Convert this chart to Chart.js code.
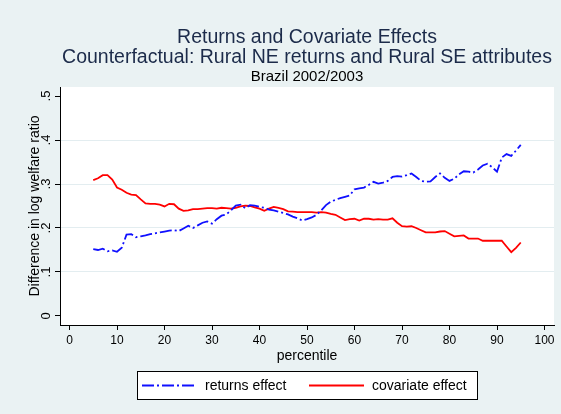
<!DOCTYPE html>
<html>
<head>
<meta charset="utf-8">
<script src="https://cdn.jsdelivr.net/npm/chart.js@4.4.1/dist/chart.umd.min.js"></script>
<style>
  html, body { margin: 0; padding: 0; background: #EAF2F3; }
  canvas { display: block; }
</style>
</head>
<body>
<canvas id="chart" width="561" height="414"></canvas>
<script>
const percentiles = [5, 6, 7, 8, 9, 10, 11, 12, 13, 14, 15, 16, 17, 18, 19, 20,
  21, 22, 23, 24, 25, 26, 27, 28, 29, 30, 31, 32, 33, 34, 35, 36, 37, 38, 39, 40,
  41, 42, 43, 44, 45, 46, 47, 48, 49, 50, 51, 52, 53, 54, 55, 56, 57, 58, 59, 60,
  61, 62, 63, 64, 65, 66, 67, 68, 69, 70, 71, 72, 73, 74, 75, 76, 77, 78, 79, 80,
  81, 82, 83, 84, 85, 86, 87, 88, 89, 90, 91, 92, 93, 94, 95]

const returnsEffect = [.152, .150, .153, .147, .149, .146, .155, .185, .186, .179,
  .181, .183, .186, .188, .190, .192, .194, .195, .193, .199,
  .205, .200, .206, .212, .215, .210, .220, .228, .231, .240,
  .251, .253, .245, .252, .251, .248, .246, .242, .240, .237,
  .234, .231, .226, .222, .217, .220, .224, .230, .240, .252,
  .260, .264, .268, .271, .274, .288, .290, .292, .298, .305,
  .301, .303, .307, .316, .318, .317, .320, .324, .316, .307,
  .305, .306, .316, .324, .314, .307, .312, .322, .329, .328,
  .326, .333, .342, .346, .338, .328, .360, .368, .364, .376, .389]

const covariateEffect = [.309, .313, .320, .320, .310, .292, .287, .280, .276, .275,
  .265, .256, .255, .255, .253, .249, .255, .254, .244, .239,
  .240, .243, .243, .244, .245, .245, .244, .246, .245, .244,
  .246, .249, .251, .250, .247, .244, .239, .244, .248, .246,
  .243, .238, .237, .236, .236, .236, .236, .235, .236, .235,
  .232, .230, .224, .218, .220, .221, .217, .221, .221, .219,
  .220, .219, .219, .222, .212, .204, .203, .204, .200, .195,
  .190, .190, .190, .192, .193, .187, .181, .182, .183, .176,
  .176, .176, .171, .171, .171, .171, .171, .158, .145, .155, .167]

const seriesNames = ['returns effect', 'covariate effect']
const xTicks = [0, 10, 20, 30, 40, 50, 60, 70, 80, 90, 100]
const yTicks = [0, 0.1, 0.2, 0.3, 0.4, 0.5]
const yTickLabels = ['0', '.1', '.2', '.3', '.4', '.5']

const titleLines = ['Returns and Covariate Effects', 'Counterfactual: Rural NE returns and Rural SE attributes']
const subTitle = 'Brazil 2002/2003'

const FONT = '"Liberation Sans", Arial, sans-serif'

// stata-like background, titles, rotated y labels and boxed legend
const stataLook = {
  id: 'stataLook',
  beforeDraw(chart) {
    const { ctx, chartArea: a } = chart
    ctx.save()
    ctx.fillStyle = '#EAF2F3'
    ctx.fillRect(0, 0, chart.width, chart.height)
    ctx.fillStyle = '#ffffff'
    ctx.fillRect(a.left, a.top, a.right - a.left, a.bottom - a.top)
    ctx.restore()
  },
  afterDraw(chart) {
    const { ctx, chartArea: a } = chart
    const cx = (a.left + a.right) / 2
    ctx.save()
    ctx.textAlign = 'center'
    ctx.textBaseline = 'middle'
    ctx.fillStyle = '#1C2B4A'
    ctx.font = '19.5px ' + FONT
    ctx.fillText(titleLines[0], cx, 38)
    ctx.fillText(titleLines[1], cx, 58)
    ctx.fillStyle = '#000'
    ctx.font = '15px ' + FONT
    ctx.fillText(subTitle, cx, 77)

    // y tick labels, vertical like stata
    const ys = chart.scales.y
    ctx.font = '13px ' + FONT
    ys.ticks.forEach((t, i) => {
      const py = ys.getPixelForValue(t.value)
      ctx.save()
      ctx.translate(46, py)
      ctx.rotate(-Math.PI / 2)
      ctx.fillText(yTickLabels[i], 0, 0)
      ctx.restore()
    })

    // legend box
    const box = { x: 137.5, y: 371.5, w: 340, h: 28 }
    ctx.fillStyle = '#fff'
    ctx.fillRect(box.x, box.y, box.w, box.h)
    ctx.strokeStyle = '#000'
    ctx.lineWidth = 1
    ctx.strokeRect(box.x, box.y, box.w, box.h)
    const my = box.y + box.h / 2
    const starts = [142, 309]
    ctx.textAlign = 'left'
    ctx.font = '14px ' + FONT
    chart.data.datasets.forEach((ds, i) => {
      const x0 = starts[i]
      ctx.beginPath()
      ctx.strokeStyle = ds.borderColor
      ctx.lineWidth = ds.borderWidth
      ctx.setLineDash(ds.borderDash || [])
      ctx.moveTo(x0, my)
      ctx.lineTo(x0 + 55, my)
      ctx.stroke()
      ctx.setLineDash([])
      ctx.fillStyle = '#000'
      ctx.fillText(ds.label, x0 + 63, my + 1)
    })
    ctx.restore()
  }
}

new Chart(document.getElementById('chart'), {
  type: 'line',
  data: {
    datasets: [
      {
        label: seriesNames[0],
        data: percentiles.map((p, i) => ({ x: p, y: returnsEffect[i] })),
        borderColor: '#1010FF',
        borderWidth: 1.8,
        borderDash: [12, 3, 2, 3],
        pointRadius: 0,
        tension: 0,
      },
      {
        label: seriesNames[1],
        data: percentiles.map((p, i) => ({ x: p, y: covariateEffect[i] })),
        borderColor: '#FF0000',
        borderWidth: 1.8,
        pointRadius: 0,
        tension: 0,
      },
    ],
  },
  options: {
    responsive: false,
    animation: false,
    layout: { padding: { left: 0, top: 87, right: 7, bottom: 49 } },
    plugins: {
      legend: { display: false },
      title: { display: false },
      tooltip: { enabled: false },
    },
    scales: {
      x: {
        type: 'linear',
        min: -2,
        max: 102,
        afterBuildTicks: (s) => { s.ticks = xTicks.map((v) => ({ value: v })) },
        afterFit: (s) => { s.height = 40 },
        ticks: { color: '#000', font: { family: FONT, size: 12 }, padding: 3, maxRotation: 0 },
        grid: { drawOnChartArea: false, tickLength: 5, tickColor: '#000', color: '#000' },
        border: { color: '#000', width: 1 },
        title: { display: true, text: 'percentile', color: '#000', font: { family: FONT, size: 14 }, padding: { top: 0, bottom: 0 } },
      },
      y: {
        min: -0.0205,
        max: 0.5205,
        afterBuildTicks: (s) => { s.ticks = yTicks.map((v) => ({ value: v })) },
        afterFit: (s) => { s.width = 60 },
        ticks: { display: false },
        grid: {
          tickLength: 5,
          tickColor: '#000',
          color: (c) => (c.tick && (c.tick.value === 0 || c.tick.value === 0.5)) ? 'rgba(0,0,0,0)' : '#E3EDF0',
        },
        border: { color: '#000', width: 1 },
        title: { display: true, text: 'Difference in log welfare ratio', color: '#000', font: { family: FONT, size: 14 }, padding: { top: 27, bottom: 0 } },
      },
    },
  },
  plugins: [stataLook],
})
</script>
</body>
</html>
